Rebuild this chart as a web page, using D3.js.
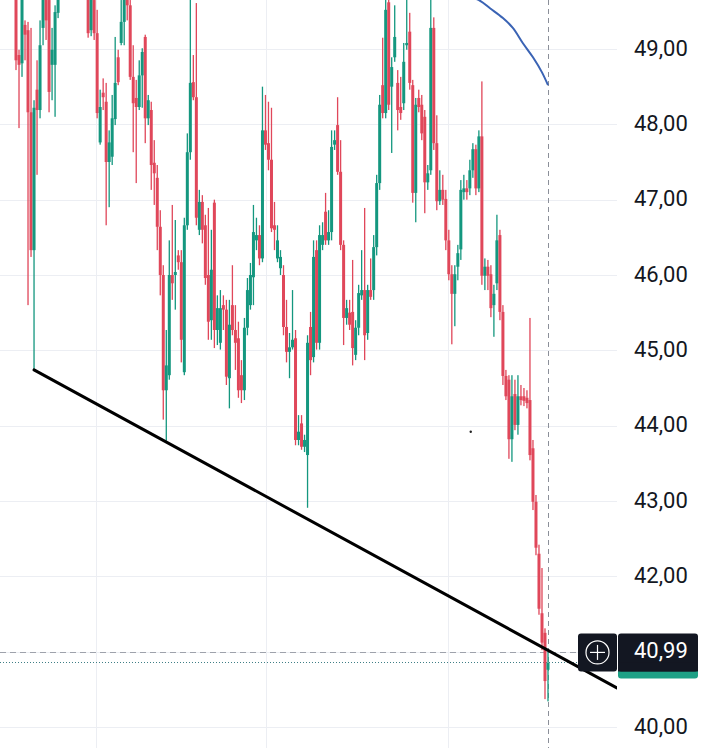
<!DOCTYPE html>
<html><head><meta charset="utf-8">
<script src="https://cdn.jsdelivr.net/npm/d3@7"></script>
<style>
html,body{margin:0;padding:0;background:#fff;}
svg{display:block;}
</style></head><body>
<svg id="chart" width="714" height="748"></svg>
<script>
// ---- data (price values) ----
const opens = [
49.92,48.92,48.81,49.32,49.25,48.16,46.33,48.46,48.19,49.28,
49.78,49.65,48.79,48.79,49.48,49.78,50.18,50.58,50.31,50.84,
50.45,50.05,50.58,49.92,49.78,49.25,49.65,49.21,47.76,48.42,
48.30,47.50,47.57,48.07,48.89,49.08,49.36,49.78,49.58,48.63,
48.35,48.23,48.65,49.16,48.08,48.19,47.49,47.29,46.64,46.00,
44.47,44.67,46.00,46.00,46.26,46.17,44.71,46.66,47.63,48.56,
48.36,46.60,46.97,46.66,46.00,45.40,46.96,45.27,45.10,45.60,
45.54,44.63,45.60,45.27,45.16,44.67,44.47,45.30,45.60,45.97,
46.46,46.53,46.22,47.92,47.75,47.53,46.66,46.22,46.09,46.00,
45.31,44.98,45.04,45.16,43.81,44.03,43.72,43.61,45.31,44.91,
46.33,45.10,46.40,46.84,46.46,46.57,47.73,47.99,47.37,46.40,
45.43,45.50,45.51,44.94,45.30,45.73,45.80,45.23,45.80,45.80,
46.37,47.22,48.52,48.15,49.62,48.50,48.89,48.55,48.23,48.28,
49.05,49.23,48.52,47.09,48.35,48.26,48.10,47.23,47.39,49.28,
47.75,46.98,47.13,47.01,46.46,46.01,45.75,46.11,46.34,47.10,
47.15,47.15,47.39,47.67,47.15,47.84,45.99,46.11,46.01,45.60,
45.89,46.53,45.51,44.66,44.61,43.82,44.42,44.01,44.39,44.39,
44.37,44.34,43.70,42.99,42.30,41.51,41.25,40.76];
const highs = [
50.05,48.99,49.85,49.38,49.36,49.28,48.32,48.85,49.38,49.85,
49.92,49.78,49.28,49.58,49.92,50.31,50.71,50.78,50.98,50.98,
50.58,50.71,50.65,50.05,49.92,49.85,49.78,49.52,48.46,48.61,
48.55,47.92,48.39,49.16,48.99,49.65,49.85,49.92,49.65,49.05,
48.59,48.85,49.01,49.19,48.39,48.30,47.79,47.46,46.86,46.13,
45.27,46.46,46.93,46.73,46.33,46.33,46.76,47.88,49.72,48.92,
49.61,47.13,47.06,46.80,46.89,46.60,47.00,45.73,45.80,45.73,
45.67,45.67,46.13,45.60,45.38,44.87,45.43,45.96,46.16,46.93,
46.76,46.66,48.50,48.39,48.30,48.22,46.97,46.66,46.33,46.13,
45.67,45.23,45.80,45.27,44.14,44.14,43.88,45.20,45.51,46.46,
46.46,46.66,46.70,47.09,46.86,47.92,47.92,48.36,47.79,46.46,
45.67,45.67,46.20,45.40,45.87,46.33,46.89,45.87,46.22,46.53,
47.33,48.39,49.15,49.78,49.72,48.89,49.58,48.72,48.63,49.08,
49.72,49.48,48.59,48.35,48.46,48.39,48.19,47.46,49.72,49.42,
48.12,47.39,47.33,47.13,46.60,46.13,46.13,46.40,47.26,47.33,
47.26,47.53,47.75,47.73,47.92,48.57,46.22,46.20,46.13,45.87,
46.80,46.60,45.60,44.74,44.67,44.67,44.61,44.67,44.54,44.50,
44.47,45.43,43.81,43.08,42.42,42.11,41.31,41.00];
const lows = [
48.72,47.95,48.63,48.85,45.60,46.24,44.74,47.33,48.08,49.05,
49.12,48.16,48.32,48.10,49.41,49.76,50.11,50.25,50.25,50.38,
49.98,49.98,49.85,49.68,49.15,49.17,49.12,48.08,47.73,48.19,
46.66,46.90,47.46,47.99,48.52,49.05,49.05,49.38,48.59,47.63,
47.22,48.19,48.22,47.75,47.99,47.13,46.93,46.33,45.73,44.08,
43.80,44.61,45.67,45.54,46.07,44.84,44.67,46.60,47.53,48.32,
46.66,46.53,46.42,45.87,45.14,45.14,45.03,45.07,45.01,45.27,
44.54,44.23,45.20,44.74,44.37,44.30,44.34,45.20,45.54,45.60,
46.33,46.13,46.17,47.66,47.39,46.57,46.33,46.17,46.00,45.20,
44.84,44.63,45.01,43.74,43.74,43.68,43.65,42.91,44.67,44.84,
45.01,45.01,46.33,46.40,46.40,46.46,47.66,47.33,46.33,45.07,
45.34,45.27,44.80,44.87,45.20,45.67,44.87,45.14,45.67,45.67,
46.26,47.13,48.08,48.08,48.19,47.62,48.83,47.92,48.06,48.19,
48.99,48.46,46.96,46.70,48.16,47.79,46.82,47.13,47.33,47.66,
46.86,46.93,46.93,46.33,45.93,45.08,45.32,45.93,46.20,47.00,
47.00,47.06,47.29,47.06,47.10,45.87,45.80,45.80,45.44,45.18,
45.80,45.40,44.54,44.34,43.56,43.52,43.94,43.88,44.27,44.26,
44.23,43.54,42.88,42.28,41.49,41.02,40.37,40.34];
const closes = [
48.85,48.79,49.72,49.19,48.16,46.33,48.22,48.19,49.05,49.72,
49.38,48.43,48.99,49.49,49.78,50.18,50.58,50.31,50.84,50.45,
50.05,50.58,49.92,49.72,49.21,49.72,49.21,48.15,48.23,48.36,
47.50,47.76,48.08,48.55,48.56,49.36,49.72,49.58,48.63,48.28,
48.23,48.65,48.96,48.08,48.32,47.46,47.35,46.64,46.00,44.47,
44.80,46.00,45.89,46.04,46.17,45.14,46.66,47.63,48.55,48.36,
46.76,46.97,46.60,45.96,45.38,46.07,45.27,45.56,45.56,45.54,
44.65,45.34,45.27,45.10,44.47,44.47,45.30,45.80,46.00,46.57,
46.53,46.22,47.92,47.73,47.53,46.62,46.60,46.46,46.24,45.31,
44.98,45.04,45.14,43.81,43.92,43.72,43.81,45.10,44.87,46.24,
45.10,46.53,46.53,46.46,46.57,47.70,47.79,47.37,46.40,45.43,
45.56,45.34,45.03,45.30,45.76,45.80,45.20,45.80,45.71,46.37,
47.22,48.26,48.15,49.52,48.26,48.76,49.16,48.19,48.15,48.83,
49.08,48.55,47.09,48.26,48.23,47.88,47.23,47.35,49.28,47.75,
46.98,47.13,47.00,46.46,46.01,45.75,46.01,46.29,47.13,47.15,
47.10,47.39,47.67,47.15,47.84,45.99,46.11,45.99,45.56,45.75,
46.46,45.51,44.66,44.39,43.82,44.39,44.01,44.39,44.34,44.33,
44.30,43.61,42.99,42.38,41.57,41.12,40.61,40.85];

const priceTicks = [40, 41, 42, 43, 44, 45, 46, 47, 48, 49];
const lastPrice = 40.99;
const dottedPrice = 40.86;
const timeGridIdx = [26.6, 83.2, 143.7];
const trendPts = [[6, 44.74], [199.9, 40.52]];
const arcPts = [[149.4,49.72],[154.4,49.64],[157.7,49.54],[162.0,49.41],[165.3,49.28],[168.6,49.08],[172.0,48.89],[175.0,48.69],[177.0,48.52]];
const cursorIdx = 177.0;
const dotPt = [151.3, 43.92];

// ---- layout ----
const W = 714, H = 748, plotRight = 617;
const upColor = "#14977f", downColor = "#e0475a";
const svg = d3.select("#chart");
const x = d3.scaleLinear().domain([0, opens.length - 1]).range([16, 548]);
const y = d3.scaleLinear().domain([40, 49]).range([727, 49]);
const loc = d3.formatLocale({decimal: ",", thousands: ".", grouping: [3], currency: ["", "€"]});
const fmt = loc.format(".2f");

svg.append("rect").attr("width", W).attr("height", H).attr("fill", "#fff");
svg.append("defs").append("clipPath").attr("id", "plotClip")
  .append("rect").attr("x", 0).attr("y", 0).attr("width", plotRight).attr("height", H);

const plot = svg.append("g").attr("clip-path", "url(#plotClip)");

// grid
plot.append("g").selectAll("line").data(priceTicks).join("line")
  .attr("x1", 0).attr("x2", plotRight)
  .attr("y1", d => Math.round(y(d)) + 0.5).attr("y2", d => Math.round(y(d)) + 0.5)
  .attr("stroke", "#eceef3").attr("stroke-width", 1);
plot.append("g").selectAll("line").data(timeGridIdx).join("line")
  .attr("y1", 0).attr("y2", H)
  .attr("x1", d => Math.round(x(d)) + 0.5).attr("x2", d => Math.round(x(d)) + 0.5)
  .attr("stroke", "#eceef3").attr("stroke-width", 1);

// vertical crosshair dashed
plot.append("line")
  .attr("x1", Math.round(x(cursorIdx)) + 0.5).attr("x2", Math.round(x(cursorIdx)) + 0.5)
  .attr("y1", 0).attr("y2", H)
  .attr("stroke", "#8b8f99").attr("stroke-width", 1).attr("stroke-dasharray", "5,4");

// horizontal price lines
plot.append("line")
  .attr("x1", 0).attr("x2", 578)
  .attr("y1", Math.round(y(lastPrice)) + 0.5).attr("y2", Math.round(y(lastPrice)) + 0.5)
  .attr("stroke", "#9ea2ab").attr("stroke-width", 1).attr("stroke-dasharray", "6,4");
plot.append("line")
  .attr("x1", 0).attr("x2", 578)
  .attr("y1", Math.round(y(dottedPrice)) + 0.5).attr("y2", Math.round(y(dottedPrice)) + 0.5)
  .attr("stroke", "#3f7f86").attr("stroke-width", 1).attr("stroke-dasharray", "1,2");

// candles
const candles = d3.range(opens.length).map(i => ({i, o: opens[i], h: highs[i], l: lows[i], c: closes[i]}));
const cg = plot.append("g").selectAll("g").data(candles).join("g")
  .attr("fill", d => d.c >= d.o ? upColor : downColor);
cg.append("rect")
  .attr("x", d => x(d.i) - 0.65).attr("width", 1.3)
  .attr("y", d => y(d.h)).attr("height", d => Math.max(1, y(d.l) - y(d.h)));
cg.append("rect")
  .attr("x", d => x(d.i) - 1.5).attr("width", 3)
  .attr("y", d => y(Math.max(d.o, d.c)))
  .attr("height", d => Math.max(2, Math.abs(y(d.o) - y(d.c))));

// trend line
plot.append("line")
  .attr("x1", x(trendPts[0][0])).attr("y1", y(trendPts[0][1]))
  .attr("x2", x(trendPts[1][0])).attr("y2", y(trendPts[1][1]))
  .attr("stroke", "#000").attr("stroke-width", 3).attr("stroke-linecap", "round");

// blue arc
plot.append("path")
  .attr("d", d3.line().x(d => x(d[0])).y(d => y(d[1])).curve(d3.curveCatmullRom)(arcPts))
  .attr("fill", "none").attr("stroke", "#3a63b4").attr("stroke-width", 2);

// small dot
plot.append("circle").attr("cx", x(dotPt[0])).attr("cy", y(dotPt[1])).attr("r", 1.2).attr("fill", "#222");

// right axis
const axis = d3.axisRight(y).tickValues(priceTicks).tickFormat(fmt).tickSize(0).tickPadding(0);
const ag = svg.append("g").attr("transform", "translate(634,0)").call(axis);
ag.select(".domain").remove();
ag.selectAll("text")
  .attr("font-family", "Roboto, 'Noto Sans', sans-serif")
  .attr("font-size", 22).attr("fill", "#131722")
  .attr("dy", null).attr("y", 6).attr("dominant-baseline", "alphabetic")
  .attr("text-anchor", "start").attr("x", 0);

// price label
const ly = y(lastPrice);
const lab = svg.append("g");
lab.append("rect").attr("x", 578).attr("y", ly - 19).attr("width", 39).attr("height", 38).attr("rx", 3).attr("fill", "#131722");
lab.append("rect").attr("x", 618).attr("y", ly + 12).attr("width", 80).attr("height", 14).attr("rx", 3).attr("fill", "#1ea186");
lab.append("rect").attr("x", 618).attr("y", ly - 19).attr("width", 80).attr("height", 38).attr("rx", 3).attr("fill", "#131722");
lab.append("rect").attr("x", 618).attr("y", ly + 10).attr("width", 80).attr("height", 9).attr("fill", "#131722");
lab.append("circle").attr("cx", 597.5).attr("cy", ly).attr("r", 11.5).attr("fill", "none").attr("stroke", "#fff").attr("stroke-width", 1.2);
lab.append("line").attr("x1", 590).attr("x2", 605).attr("y1", ly).attr("y2", ly).attr("stroke", "#fff").attr("stroke-width", 1.2);
lab.append("line").attr("x1", 597.5).attr("x2", 597.5).attr("y1", ly - 7.5).attr("y2", ly + 7.5).attr("stroke", "#fff").attr("stroke-width", 1.2);
lab.append("text").attr("x", 634).attr("y", ly + 6)
  .attr("font-family", "Roboto, 'Noto Sans', sans-serif").attr("font-size", 22)
  .attr("fill", "#fff").text(fmt(lastPrice));
</script>
</body></html>
